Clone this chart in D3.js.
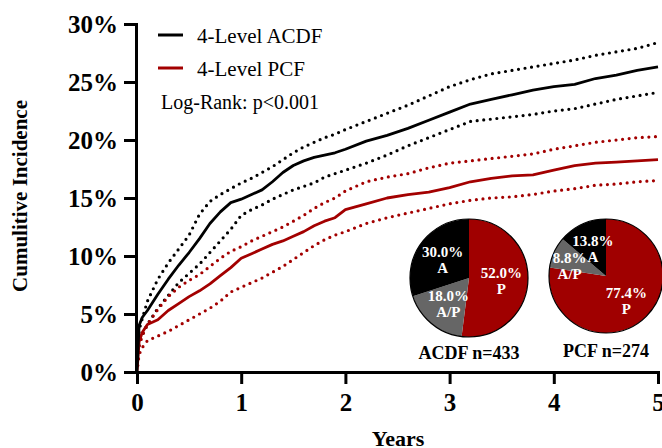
<!DOCTYPE html>
<html lang="en">
<head>
<meta charset="UTF-8">
<title>Cumulative Incidence ACDF vs PCF</title>
<script src="https://d3js.org/d3.v7.min.js"></script>
<style>
    body { margin: 0; background: #fff; }
    text { font-family: "Liberation Serif", "Times New Roman", serif; }
    .axis path, .axis line { stroke: #000; stroke-width: 3; }
    .axis text { font-size: 25px; font-weight: bold; fill: #000; }
</style>
</head>
<body>
<svg id="chart" width="662" height="448"></svg>
<script>
    // time grid (years)
    const years = [0, 0.02, 0.05, 0.1, 0.2, 0.3, 0.4, 0.5, 0.6, 0.7, 0.8, 0.9, 1.0, 1.1, 1.2, 1.3, 1.4, 1.5, 1.6, 1.7, 1.8, 1.9,
        2.0, 2.2, 2.4, 2.6, 2.8, 3.0, 3.2, 3.4, 3.6, 3.8, 4.0, 4.2, 4.4, 4.6, 4.8, 5.0];

    // cumulative incidence (%)
    const acdf = [0, 4.0, 4.7, 5.3, 6.7, 8.0, 9.2, 10.3, 11.5, 12.8, 13.8, 14.6, 14.9, 15.3, 15.7, 16.4, 17.2, 17.8, 18.2, 18.5, 18.7, 18.9,
        19.2, 19.9, 20.4, 21.0, 21.7, 22.4, 23.1, 23.5, 23.9, 24.3, 24.6, 24.8, 25.3, 25.6, 26.0, 26.3];
    const acdfUpper = [0, 3.6, 4.6, 6.1, 8.0, 9.4, 10.6, 11.8, 13.6, 14.7, 15.3, 15.8, 16.3, 16.7, 17.2, 17.7, 18.3, 18.9, 19.4, 19.8, 20.2, 20.5,
        20.9, 21.6, 22.3, 23.0, 23.8, 24.6, 25.2, 25.7, 26.0, 26.3, 26.6, 26.9, 27.3, 27.6, 27.9, 28.4];
    const acdfLower = [0, 2.6, 3.2, 4.1, 5.5, 6.6, 7.7, 8.5, 9.3, 10.3, 11.3, 12.3, 13.5, 14.0, 14.4, 14.9, 15.3, 15.7, 16.0, 16.3, 16.8, 17.1,
        17.4, 18.0, 18.7, 19.5, 20.2, 20.9, 21.6, 21.8, 22.0, 22.2, 22.5, 22.7, 23.1, 23.5, 23.8, 24.1];

    const pcf = [0, 2.6, 3.4, 4.1, 4.5, 5.3, 5.9, 6.5, 7.0, 7.6, 8.3, 9.0, 9.8, 10.2, 10.6, 11.0, 11.3, 11.7, 12.1, 12.6, 13.0, 13.3,
        14.0, 14.5, 15.0, 15.3, 15.5, 15.9, 16.4, 16.7, 16.9, 17.0, 17.4, 17.8, 18.0, 18.1, 18.2, 18.3];
    const pcfUpper = [0, 2.2, 3.1, 4.1, 5.4, 6.5, 7.3, 7.9, 8.4, 9.1, 9.8, 10.4, 10.8, 11.3, 11.7, 12.1, 12.5, 13.0, 13.5, 14.1, 14.6, 15.0,
        15.6, 16.4, 16.8, 17.1, 17.6, 18.0, 18.2, 18.4, 18.6, 18.8, 19.2, 19.5, 19.8, 20.0, 20.2, 20.3];
    const pcfLower = [0, 1.5, 2.1, 2.7, 3.1, 3.5, 4.0, 4.5, 5.0, 5.5, 6.1, 6.9, 7.3, 7.7, 8.1, 8.6, 9.1, 9.7, 10.3, 10.9, 11.4, 11.8,
        12.1, 12.8, 13.3, 13.7, 14.1, 14.5, 14.8, 15.0, 15.1, 15.3, 15.6, 15.8, 16.1, 16.2, 16.4, 16.5];

    // pie data (approach split)
    const pieLabels = ["P", "A/P", "A"];
    const acdfSplit = [52.0, 18.0, 30.0];
    const pcfSplit = [77.4, 8.8, 13.8];

    const xTicks = [0, 1, 2, 3, 4, 5];
    const yTicks = [0, 5, 10, 15, 20, 25, 30];

    const red = "#a30000";
    const pieColors = { "P": "#a00000", "A/P": "#666666", "A": "#000000" };

    const svg = d3.select("#chart");

    const x = d3.scaleLinear().domain([0, 5]).range([137, 658]);
    const y = d3.scaleLinear().domain([0, 30]).range([372, 24]);

    // curves
    const line = d3.line()
        .x(d => x(d[0]))
        .y(d => y(d[1]));

    const series = [
        { values: acdfUpper, color: "#000", dotted: true },
        { values: acdfLower, color: "#000", dotted: true },
        { values: pcfUpper, color: red, dotted: true },
        { values: pcfLower, color: red, dotted: true },
        { values: pcf, color: red, dotted: false },
        { values: acdf, color: "#000", dotted: false }
    ];

    svg.selectAll(".curve")
        .data(series)
        .join("path")
        .attr("class", "curve")
        .attr("fill", "none")
        .attr("stroke", d => d.color)
        .attr("stroke-width", d => d.dotted ? 3.2 : 2.8)
        .attr("stroke-linecap", d => d.dotted ? "round" : "butt")
        .attr("stroke-linejoin", "round")
        .attr("stroke-dasharray", d => d.dotted ? "0,6.6" : null)
        .attr("d", d => line(years.map((t, i) => [t, d.values[i]])));

    // axes
    svg.append("g")
        .attr("class", "axis")
        .attr("transform", "translate(0,372)")
        .call(d3.axisBottom(x).tickValues(xTicks).tickSize(12).tickSizeOuter(0).tickPadding(9).tickFormat(d3.format("d")));

    svg.append("g")
        .attr("class", "axis")
        .attr("transform", "translate(136,0)")
        .call(d3.axisLeft(y).tickValues(yTicks).tickSize(12).tickSizeOuter(0).tickPadding(6).tickFormat(d => d + "%"));

    svg.selectAll(".axis .domain").attr("stroke-linecap", "square");

    // axis titles
    svg.append("text")
        .attr("x", 398)
        .attr("y", 446)
        .attr("text-anchor", "middle")
        .attr("font-size", "22px")
        .attr("font-weight", "bold")
        .text("Years");

    svg.append("text")
        .attr("transform", "translate(27,196) rotate(-90)")
        .attr("text-anchor", "middle")
        .attr("font-size", "21px")
        .attr("font-weight", "bold")
        .text("Cumulitive Incidence");

    // legend
    const legend = [
        { label: "4-Level ACDF", color: "#000", y: 35 },
        { label: "4-Level PCF", color: red, y: 68 }
    ];
    legend.forEach(l => {
        svg.append("line")
            .attr("x1", 158).attr("x2", 183)
            .attr("y1", l.y).attr("y2", l.y)
            .attr("stroke", l.color)
            .attr("stroke-width", 3);
        svg.append("text")
            .attr("x", 197)
            .attr("y", l.y + 8)
            .attr("font-size", "21px")
            .text(l.label);
    });
    svg.append("text")
        .attr("x", 161)
        .attr("y", 109)
        .attr("font-size", "20px")
        .text("Log-Rank: p<0.001");

    // pies
    const pie = d3.pie().sort(null).value(d => d.value);

    const pies = [
        { name: "ACDF n=433", values: acdfSplit, cx: 469, cy: 278, r: 59, capY: 359 },
        { name: "PCF n=274", values: pcfSplit, cx: 606, cy: 276, r: 57, capY: 357 }
    ];

    pies.forEach(p => {
        const g = svg.append("g").attr("transform", `translate(${p.cx},${p.cy})`);
        const arcs = pie(pieLabels.map((k, i) => ({ key: k, value: p.values[i] })));
        const arc = d3.arc().innerRadius(0).outerRadius(p.r);

        g.selectAll("path")
            .data(arcs)
            .join("path")
            .attr("d", arc)
            .attr("fill", d => pieColors[d.data.key]);

        g.append("circle")
            .attr("r", p.r)
            .attr("fill", "none")
            .attr("stroke", "#000")
            .attr("stroke-width", 1.2);

        // narrow slices: label sits further out and a bit lower
        const small = d => d.data.value < 10;
        const lab = g.selectAll(".plabel")
            .data(arcs)
            .join("text")
            .attr("class", "plabel")
            .attr("transform", d => {
                const k = small(d) ? 0.7 : 0.55;
                const a = d3.arc().innerRadius(p.r * k).outerRadius(p.r * k);
                return `translate(${a.centroid(d)})`;
            })
            .attr("text-anchor", "middle")
            .attr("font-size", "15px")
            .attr("font-weight", "bold")
            .attr("fill", "#fff");
        lab.append("tspan").attr("x", 0).attr("y", d => small(d) ? 4 : -2).text(d => d.data.value.toFixed(1) + "%");
        lab.append("tspan").attr("x", 0).attr("y", d => small(d) ? 20 : 14).text(d => d.data.key);

        svg.append("text")
            .attr("x", p.cx)
            .attr("y", p.capY)
            .attr("text-anchor", "middle")
            .attr("font-size", "18px")
            .attr("font-weight", "bold")
            .text(p.name);
    });
</script>
</body>
</html>
